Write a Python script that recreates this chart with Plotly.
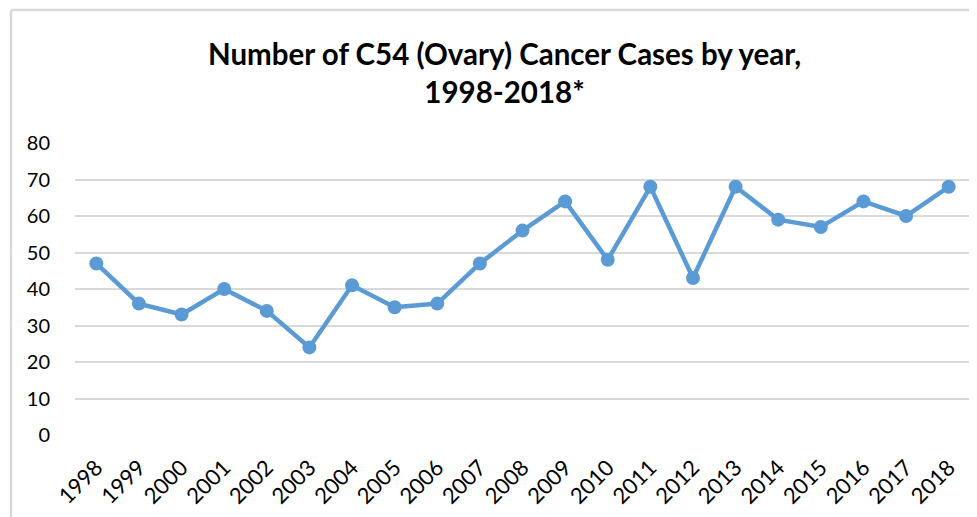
import plotly.graph_objects as go

# data
years = [str(y) for y in range(1998, 2019)]
cases = [47, 36, 33, 40, 34, 24, 41, 35, 36, 47, 56, 64, 48, 68, 43, 68, 59, 57, 64, 60, 68]
y_ticks = [0, 10, 20, 30, 40, 50, 60, 70, 80]

blue = "#5b9bd5"
grid = "#d9d9d9"
font_family = "Lato, Carlito, Calibri, sans-serif"

# the page body adds an 8px margin, so the figure is drawn 8px smaller
W, H = 969, 509
L, T, R, B = 67, 135, 7, 82
plot_w = W - L - R
plot_h = H - T - B

fig = go.Figure()
fig.add_trace(go.Scatter(
    x=years,
    y=cases,
    mode="lines+markers",
    line=dict(color=blue, width=4.5),
    marker=dict(color=blue, size=14),
    hoverinfo="x+y",
))

fig.update_layout(
    width=W,
    height=H,
    margin=dict(l=L, r=R, t=T, b=B),
    paper_bgcolor="white",
    plot_bgcolor="white",
    showlegend=False,
    font=dict(family=font_family, size=20, color="#000000"),
    xaxis=dict(
        type="category",
        range=[-0.5, 20.5],
        automargin=False,
        showgrid=False,
        showline=False,
        zeroline=False,
        ticks="outside",
        ticklen=10,
        tickcolor="rgba(0,0,0,0)",
        tickangle=-45,
        tickfont=dict(size=22),
    ),
    yaxis=dict(
        range=[0, 80],
        tickvals=y_ticks,
        automargin=False,
        showgrid=True,
        gridcolor=grid,
        gridwidth=1.5,
        zeroline=False,
        showline=False,
        ticks="outside",
        ticklen=20,
        tickcolor="rgba(0,0,0,0)",
        tickfont=dict(size=20),
    ),
)

# chart title, two lines
fig.add_annotation(
    text="<b>Number of C54 (Ovary) Cancer Cases by year,</b><br><b>1998-2018*</b>",
    xref="paper", yref="paper",
    x=(496 - L) / plot_w, y=(plot_h + T - 26) / plot_h,
    xanchor="center", yanchor="top",
    showarrow=False,
    align="center",
    font=dict(family=font_family, size=29.5, color="#000000"),
)

# outer chart border: only the left and top edges fall inside the window
border_x = (3 - L) / plot_w
border_top = (plot_h + T - 2) / plot_h
fig.add_shape(type="line", xref="paper", yref="paper",
              x0=border_x, x1=1.2, y0=border_top, y1=border_top,
              line=dict(color=grid, width=2.5))
fig.add_shape(type="line", xref="paper", yref="paper",
              x0=border_x, x1=border_x, y0=-0.6, y1=border_top,
              line=dict(color=grid, width=2.5))

fig.write_html("out.html")
